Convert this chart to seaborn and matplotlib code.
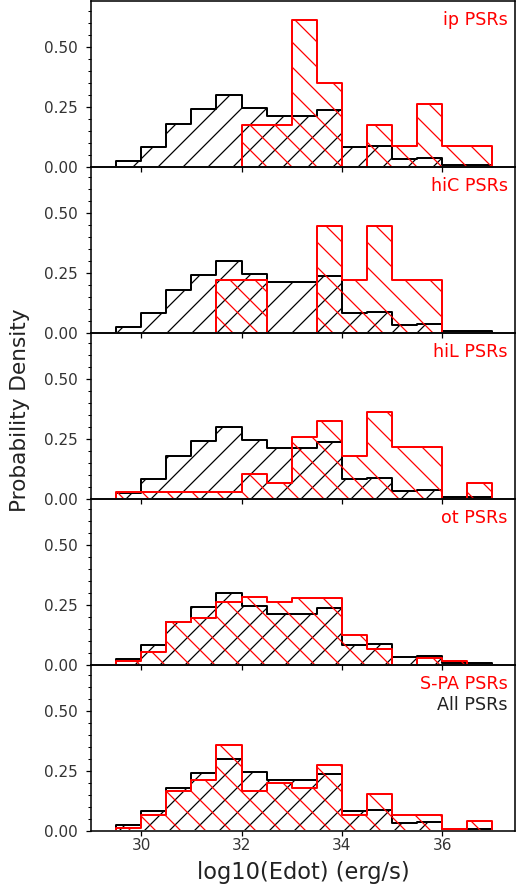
import numpy as np
import pandas as pd
import matplotlib
matplotlib.use("Agg")
import matplotlib.pyplot as plt
from matplotlib.patches import Rectangle
from matplotlib.ticker import MultipleLocator
import seaborn as sns

# Histogram bins in log10(Edot), 0.5 dex wide
bin_edges = [29.5, 30.0, 30.5, 31.0, 31.5, 32.0, 32.5, 33.0,
             33.5, 34.0, 34.5, 35.0, 35.5, 36.0, 36.5, 37.0]

# Probability density per bin for the full sample
all_psrs = [0.023, 0.082, 0.177, 0.240, 0.299, 0.244, 0.212, 0.212,
            0.236, 0.082, 0.088, 0.034, 0.038, 0.007, 0.007]

# Probability density per bin for each sub-population
ip_psrs = [0.0, 0.0, 0.0, 0.0, 0.0, 0.174, 0.174, 0.609,
           0.348, 0.0, 0.174, 0.087, 0.261, 0.087, 0.087]
hic_psrs = [0.0, 0.0, 0.0, 0.0, 0.222, 0.222, 0.0, 0.0,
            0.444, 0.222, 0.444, 0.222, 0.222, 0.0, 0.0]
hil_psrs = [0.030, 0.030, 0.030, 0.030, 0.030, 0.105, 0.066, 0.256,
            0.326, 0.179, 0.363, 0.218, 0.218, 0.0, 0.066]
ot_psrs = [0.016, 0.055, 0.179, 0.194, 0.261, 0.281, 0.261, 0.280,
           0.280, 0.123, 0.068, 0.0, 0.028, 0.016, 0.0]
spa_psrs = [0.011, 0.066, 0.165, 0.210, 0.356, 0.165, 0.198, 0.179,
            0.275, 0.066, 0.155, 0.066, 0.066, 0.008, 0.042]

panel_labels = ["ip PSRs", "hiC PSRs", "hiL PSRs", "ot PSRs", "S-PA PSRs"]
panel_values = [ip_psrs, hic_psrs, hil_psrs, ot_psrs, spa_psrs]

x_ticks = [30, 32, 34, 36]
y_ticks = [0.0, 0.25, 0.50]

edges = np.asarray(bin_edges)
centers = 0.5 * (edges[:-1] + edges[1:])

sns.set_style("ticks")
plt.rcParams["font.family"] = ["DejaVu Sans"]
plt.rcParams["hatch.linewidth"] = 0.6

DPI = 150
fig, axes = plt.subplots(5, 1, sharex=True, figsize=(516 / DPI, 895 / DPI), dpi=DPI)
fig.patch.set_facecolor("white")
fig.subplots_adjust(left=91 / 516, right=515 / 516, top=1 - 1 / 895,
                    bottom=1 - 831 / 895, hspace=0)


def draw_hist(ax, values, color, hatch):
    df = pd.DataFrame({"edot": centers, "density": values})
    n_before = len(ax.collections)
    with plt.rc_context({"hatch.color": color}):
        sns.histplot(data=df, x="edot", weights="density", bins=bin_edges,
                     stat="count", element="step", fill=True, color=color,
                     facecolor="none", edgecolor=color, linewidth=0.95,
                     hatch=hatch, ax=ax)
    # keep the outline off the zero baseline (the spine marks it)
    for coll in ax.collections[n_before:]:
        coll.set_clip_path(Rectangle((28.0, 0.004), 10.0, 1.0,
                                     transform=ax.transData))


for ax, label, values in zip(axes, panel_labels, panel_values):
    ax.patch.set_facecolor("none")
    draw_hist(ax, all_psrs, "black", "//")
    draw_hist(ax, values, "red", "\\\\")

    ax.set_xlim(29.0, 37.45)
    ax.set_ylim(0, 0.69)
    ax.set_yticks(y_ticks)
    ax.set_yticklabels(["0.00", "0.25", "0.50"])
    ax.yaxis.set_minor_locator(MultipleLocator(0.05))
    ax.set_ylabel("")
    ax.set_xlabel("")
    for s in ax.spines.values():
        s.set_linewidth(0.75)
        s.set_color("black")
    ax.tick_params(axis="y", which="major", length=2.4, width=0.6,
                   labelsize=7.3, pad=4, colors="black", labelcolor="#333333")
    ax.tick_params(axis="y", which="minor", length=1.4, width=0.5,
                   colors="black")
    ax.tick_params(axis="x", which="major", length=2.4, width=0.6,
                   labelsize=7.3, pad=1, colors="black", labelcolor="#333333")
    ax.text(0.983, 0.94, label, color="red", fontsize=8.4,
            ha="right", va="top", transform=ax.transAxes)

axes[-1].set_xticks(x_ticks)
axes[-1].text(0.983, 0.815, "All PSRs", color="#222222", fontsize=8.4,
              ha="right", va="top", transform=axes[-1].transAxes)
axes[-1].set_xlabel("log10(Edot) (erg/s)", fontsize=10.8, labelpad=4,
                    color="#222222")

fig.text(20 / 516, 1 - 410 / 895, "Probability Density", rotation=90,
         ha="center", va="center", fontsize=10.4, color="#222222")

fig.savefig("out.png", dpi=DPI, facecolor="white")
